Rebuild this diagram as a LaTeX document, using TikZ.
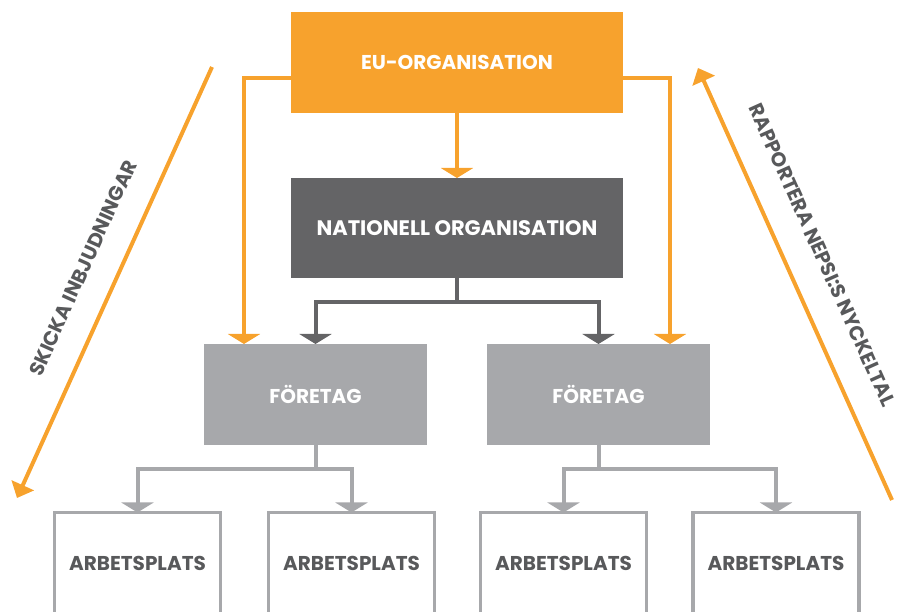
\documentclass[tikz,border=0pt]{standalone}
\usepackage{fontspec}
\setmainfont{Poppins}[BoldFont={Poppins Bold}]
\usepackage{tikz}
\usetikzlibrary{arrows.meta,positioning}

\definecolor{euorange}{HTML}{F7A22D}
\definecolor{natgray}{HTML}{646466}
\definecolor{lightgray}{HTML}{A7A8AB}
\definecolor{textgray}{HTML}{58595B}

\begin{document}
\begin{tikzpicture}[
    x = 1pt, y = 1pt, % one unit = one pixel of the sketch
    line width = 4pt, % connector thickness
    font = \bfseries\fontsize{20}{24}\selectfont
    ]

    \tikzset{
    box/.style = {rectangle, inner sep = 0pt, outer sep = 0pt, text = white},
    eubox/.style = {box, fill = euorange, minimum width = 332pt, minimum height = 101pt},
    natbox/.style = {box, fill = natgray, minimum width = 332pt, minimum height = 100pt,
        font = \bfseries\fontsize{21}{25}\selectfont},
    ftgbox/.style = {box, fill = lightgray, minimum width = 223pt, minimum height = 101pt},
    wpbox/.style = {rectangle, inner sep = 0pt, outer sep = 0pt, draw = lightgray,
        line width = 3.5pt, text = textgray, minimum width = 166pt, minimum height = 101pt},
    oconn/.style = {draw = euorange, -{Triangle[length=10pt,width=32pt]}},
    dconn/.style = {draw = natgray, -{Triangle[length=10pt,width=32pt]}},
    gconn/.style = {draw = lightgray, -{Triangle[length=10pt,width=32pt]}},
    slant/.style = {draw = euorange, -{Triangle[length=14pt,width=24pt]}},
    slantlabel/.style = {text = textgray, font = \bfseries\fontsize{20}{24}\selectfont}
    }

    \clip (0,0) rectangle (903,611);

    \node[eubox] (eu) at (457,548.5) {EU-ORGANISATION};
    \node[natbox] (nat) [below=65pt of eu] {NATIONELL ORGANISATION};
    \node[ftgbox] (f1) [below=66pt of nat, xshift=-141.5pt] {FÖRETAG};
    \node[ftgbox] (f2) [below=66pt of nat, xshift=141.5pt] {FÖRETAG};

    \node[wpbox] (a1) at (137.5,48) {ARBETSPLATS};
    \node[wpbox] (a2) [right=48pt of a1] {ARBETSPLATS};
    \node[wpbox] (a3) [right=46pt of a2] {ARBETSPLATS};
    \node[wpbox] (a4) [right=46.5pt of a3] {ARBETSPLATS};

    % side arrows
    \coordinate (s1) at (212,544);
    \coordinate (t1) at (17,113);
    \coordinate (s2) at (892,111);
    \coordinate (t2) at (698,543);
    \node[slantlabel, rotate=65.7] (l1) at (83,343) {SKICKA INBJUDNINGAR};
    \node[slantlabel, rotate=-65.8] (l2) at (822,356) {RAPPORTERA NEPSI:S NYCKELTAL};

    \path[slant] (s1) -- (t1);
    \path[slant] (s2) -- (t2);

    \path[oconn] (eu) -- (nat);
    \path[oconn] ([yshift=-16pt]eu.west) -| ([xshift=40pt]f1.north west);
    \path[oconn] ([yshift=-16pt]eu.east) -| ([xshift=-40pt]f2.north east);

    \path[dconn] (nat.south) -- ++(0,-24) -| (f1.north);
    \path[dconn] (nat.south) -- ++(0,-24) -| (f2.north);

    \path[gconn] (f1.south) -- ++(0,-24) -| (a1.north);
    \path[gconn] (f1.south) -- ++(0,-24) -| (a2.north);
    \path[gconn] (f2.south) -- ++(0,-24) -| (a3.north);
    \path[gconn] (f2.south) -- ++(0,-24) -| (a4.north);
\end{tikzpicture}
\end{document}
